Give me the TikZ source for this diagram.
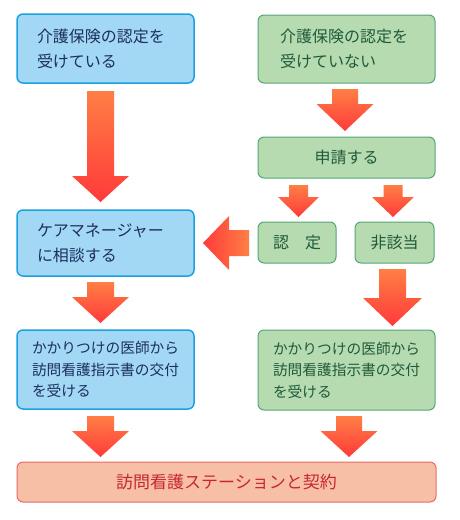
\documentclass[tikz,border=0pt]{standalone}
\usepackage{fontspec}
\setmainfont{Noto Sans CJK JP}
\definecolor{fillblue}{HTML}{A3D8F4}
\definecolor{lineblue}{HTML}{1BA1E2}
\definecolor{txtblue}{HTML}{1C2F5E}
\definecolor{fillgreen}{HTML}{B6DBB0}
\definecolor{linegreen}{HTML}{55A47A}
\definecolor{txtgreen}{HTML}{1F5A3A}
\definecolor{fillpink}{HTML}{F7BFA6}
\definecolor{linepink}{HTML}{E86A6A}
\definecolor{txtred}{HTML}{C8282D}
\definecolor{arrtop}{HTML}{FF7F45}
\definecolor{arrbot}{HTML}{FF3A3A}
\tikzset{
  boxbase/.style={rounded corners=6pt, inner ysep=0pt, anchor=center},
  bluebox/.style={boxbase, draw=lineblue, fill=fillblue, line width=1.5pt, text=txtblue},
  greenbox/.style={boxbase, draw=linegreen, fill=fillgreen, line width=1pt, text=txtgreen},
  pinkbox/.style={boxbase, draw=linepink, fill=fillpink, line width=1pt, text=txtred},
  bigtext/.style={font=\fontsize{16}{25}\selectfont},
  smalltext/.style={font=\fontsize{14.7}{21.5}\selectfont},
  downarrow/.style={top color=arrtop, bottom color=arrbot},
}
\newcommand{\darrow}[6]{%
  \shade[downarrow] ({#1-#3},#2) -- ({#1+#3},#2) -- ({#1+#3},#4) -- ({#1+#5},#4)
    -- (#1,#6) -- ({#1-#5},#4) -- ({#1-#3},#4) -- cycle;}
\begin{document}
\begin{tikzpicture}[x=1pt,y=-1pt]
\useasboundingbox (0,0) rectangle (460,520);
% boxes
\node[bluebox, bigtext, align=left, text width=137pt, inner xsep=20pt, minimum height=69pt] (b1) at (105.5,48.5) {介護保険の認定を\\受けている};
\node[greenbox, bigtext, align=left, text width=133pt, inner xsep=22pt, minimum height=68pt] (g1) at (346.5,49) {介護保険の認定を\\受けていない};
\node[greenbox, bigtext, align=center, text width=177pt, inner xsep=0pt, minimum height=41pt] (g2) at (346.5,157.5) {申請する};
\node[greenbox, bigtext, align=center, text width=78pt, inner xsep=0pt, minimum height=41pt] (g3) at (297,242.5) {認　定};
\node[greenbox, bigtext, align=center, text width=79pt, inner xsep=0pt, minimum height=41pt] (g4) at (394.5,242.5) {非該当};
\node[bluebox, bigtext, align=left, text width=137pt, inner xsep=20pt, minimum height=66pt] (b2) at (105.5,243) {ケアマネージャー\\に相談する};
\node[bluebox, smalltext, align=left, text width=147pt, inner xsep=15pt, minimum height=79pt] (b3) at (105.5,369.5) {かかりつけの医師から\\訪問看護指示書の交付\\を受ける};
\node[greenbox, smalltext, align=left, text width=147pt, inner xsep=15pt, minimum height=80pt] (g5) at (346.5,370) {かかりつけの医師から\\訪問看護指示書の交付\\を受ける};
\node[pinkbox, font=\fontsize{17}{20}\selectfont, align=center, text width=419pt, inner xsep=0pt, minimum height=40pt] (p1) at (226.5,482) {訪問看護ステーションと契約};
% arrows
\darrow{100.5}{91}{13.5}{176}{28.5}{202}
\darrow{345}{89}{13}{104}{28.5}{131}
\darrow{298.5}{185}{9.5}{197}{20.5}{217}
\darrow{393}{185}{9.5}{197}{21}{217}
\shade[left color=arrbot, right color=arrtop] (203,243) -- (229,216) -- (229,230) -- (249,230) -- (249,256) -- (229,256) -- (229,270) -- cycle;
\darrow{100.5}{282}{13.5}{297}{28.5}{323}
\darrow{392.5}{269}{13.5}{298}{29.5}{326}
\darrow{100.5}{416}{13.5}{431}{28.5}{457}
\darrow{349}{416}{13}{431}{28.5}{457}
\end{tikzpicture}
\end{document}
